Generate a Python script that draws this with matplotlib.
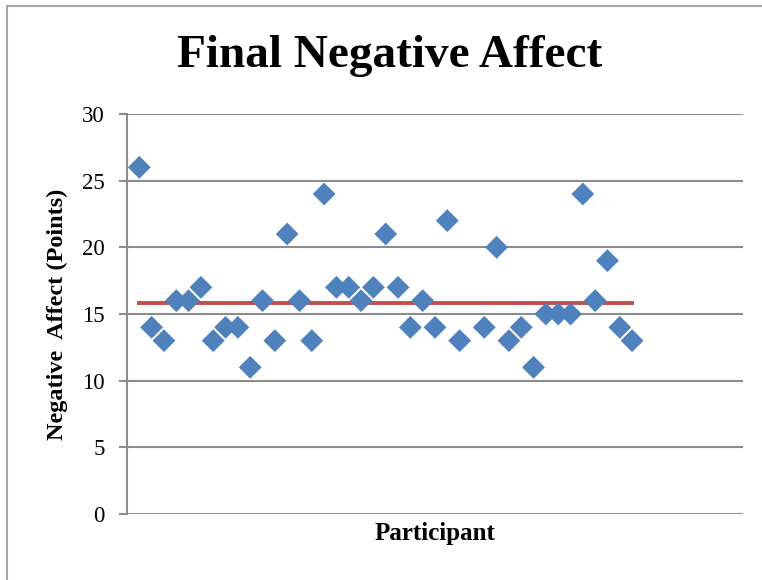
import numpy as np
import matplotlib.pyplot as plt
from matplotlib.lines import Line2D

plt.rcParams['font.family'] = ['Liberation Serif', 'DejaVu Serif']

# participant 28 has no value shown
participants = list(range(1, 42))
scores = [26, 14, 13, 16, 16, 17, 13, 14, 14, 11, 16, 13, 21, 16, 13, 24, 17,
          17, 16, 17, 21, 17, 14, 16, 14, 22, 13, np.nan, 14, 20, 13, 14, 11,
          15, 15, 15, 24, 16, 19, 14, 13]
mean_level = 15.8
yticks = [0, 5, 10, 15, 20, 25, 30]

fig = plt.figure(figsize=(7.62, 5.8), dpi=100)
ax = fig.add_axes([127/762, 1-514/580, (743-127)/762, 400/580])

grid_c = '#8c8c8c'
for t in yticks:
    ax.axhline(t, color=grid_c, lw=1.5, zorder=0)

ax.scatter(participants, scores, marker='D', s=135, color='#4F81BD',
           edgecolors='none', zorder=3)
ax.plot([participants[0], participants[-1]], [mean_level, mean_level],
        color='#C0504D', lw=2.8, zorder=2)

ax.set_xlim(0, 50)
ax.set_ylim(0, 30)
ax.set_yticks(yticks)
ax.set_xticks([])
for s in ['top', 'right', 'bottom']:
    ax.spines[s].set_visible(False)
ax.spines['left'].set_color(grid_c)
ax.spines['left'].set_linewidth(1.5)
ax.tick_params(axis='y', length=6, width=1.5, color=grid_c, labelsize=16.5, pad=10)
ax.set_ylabel('Negative  Affect (Points)', fontsize=17.5, fontweight='bold', labelpad=10)
ax.set_xlabel('Participant', fontsize=18, fontweight='bold', labelpad=6)

fig.text(390/762, 1-56/580, 'Final Negative Affect', fontsize=34,
         fontweight='bold', ha='center', va='center')

# chart area border (left and top edges visible)
fig.add_artist(Line2D([7/762, 7/762], [0, 1-6/580], transform=fig.transFigure,
                      color='#a6a6a6', lw=1.5))
fig.add_artist(Line2D([7/762, 1], [1-6/580, 1-6/580], transform=fig.transFigure,
                      color='#a6a6a6', lw=1.5))

fig.savefig('out.png', dpi=100)
